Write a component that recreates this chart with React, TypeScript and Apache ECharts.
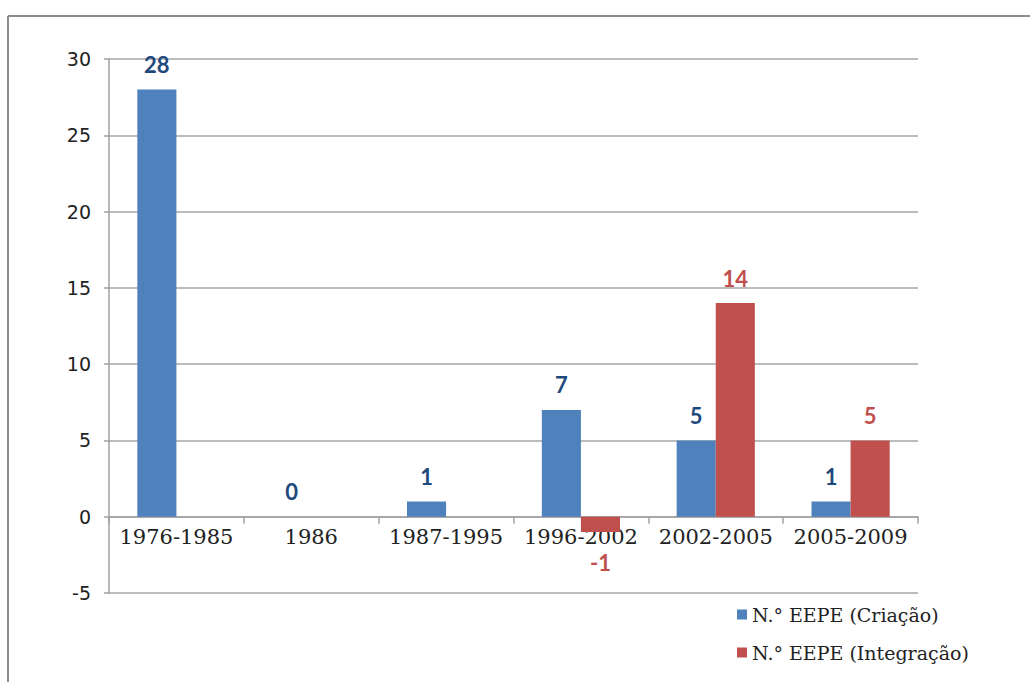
import React, { useEffect, useRef } from "react";
import * as echarts from "echarts";

const categories = ["1976-1985", "1986", "1987-1995", "1996-2002", "2002-2005", "2005-2009"];
const criacao = [28, 0, 1, 7, 5, 1];
const integracao: (number | null)[] = [null, null, null, -1, 14, 5];
const seriesNames = ["N.° EEPE (Criação)", "N.° EEPE (Integração)"];
const yTicks = { min: -5, max: 30, interval: 5 };

export default function App() {
  const ref = useRef<HTMLDivElement>(null);
  useEffect(() => {
    if (!ref.current) return;
    const chart = echarts.init(ref.current, null, { renderer: "svg" });
    const labelFont = { fontFamily: "Lato", fontWeight: "bold" as const, fontSize: 22 };
    const gridTop = 59;
    const gridBottom = 89;
    const plotH = 682 - gridTop - gridBottom;
    const zeroOffset = -(plotH * (0 - yTicks.min)) / (yTicks.max - yTicks.min);
    chart.setOption({
      animation: false,
      backgroundColor: "#ffffff",
      graphic: [
        { type: "line", shape: { x1: 8, y1: 16, x2: 1030, y2: 16 }, style: { stroke: "#8c8c8c", lineWidth: 2 } },
        { type: "line", shape: { x1: 8, y1: 16, x2: 8, y2: 682 }, style: { stroke: "#8c8c8c", lineWidth: 2 } },
      ],
      grid: { left: 109, right: 112, top: gridTop, bottom: gridBottom },
      legend: {
        orient: "vertical",
        left: 732,
        top: 600,
        itemWidth: 10,
        itemHeight: 10,
        itemGap: 19,
        icon: "rect",
        textStyle: { fontFamily: "DejaVu Serif", fontSize: 19, color: "#222" },
        data: seriesNames,
      },
      xAxis: {
        type: "category",
        data: categories,
        position: "bottom",
        offset: zeroOffset,
        axisLine: { onZero: false, lineStyle: { color: "#a0a0a0", width: 1.5 } },
        axisTick: { show: true, length: 7, alignWithLabel: false, lineStyle: { color: "#a0a0a0", width: 1.5 } },
        axisLabel: { interval: 0, fontFamily: "DejaVu Serif", fontSize: 21, color: "#222", margin: 10 },
      },
      yAxis: {
        type: "value",
        min: yTicks.min,
        max: yTicks.max,
        interval: yTicks.interval,
        axisLine: { show: true, lineStyle: { color: "#a0a0a0", width: 1.5 } },
        axisTick: { show: true, length: 5, lineStyle: { color: "#a0a0a0", width: 1.5 } },
        axisLabel: { fontFamily: "DejaVu Sans", fontSize: 19, color: "#222", margin: 18 },
        splitLine: { lineStyle: { color: "#a6a6a6", width: 1.5 } },
      },
      series: [
        {
          name: seriesNames[0],
          type: "bar",
          data: criacao,
          barGap: "0%",
          barCategoryGap: "42%",
          itemStyle: { color: "#4f81bd" },
          label: { show: true, position: "top", distance: 14, color: "#1f497d", ...labelFont },
        },
        {
          name: seriesNames[1],
          type: "bar",
          data: integracao.map((v) =>
            v !== null && v < 0
              ? { value: v, label: { position: "bottom", distance: 20 } }
              : v
          ),
          barGap: "0%",
          barCategoryGap: "42%",
          itemStyle: { color: "#c0504d" },
          label: { show: true, position: "top", distance: 14, color: "#c0504d", ...labelFont },
        },
      ],
    });
    return () => chart.dispose();
  }, []);
  return (
    <div
      ref={ref}
      style={{ position: "absolute", left: 0, top: 0, width: 1030, height: 682 }}
    />
  );
}
